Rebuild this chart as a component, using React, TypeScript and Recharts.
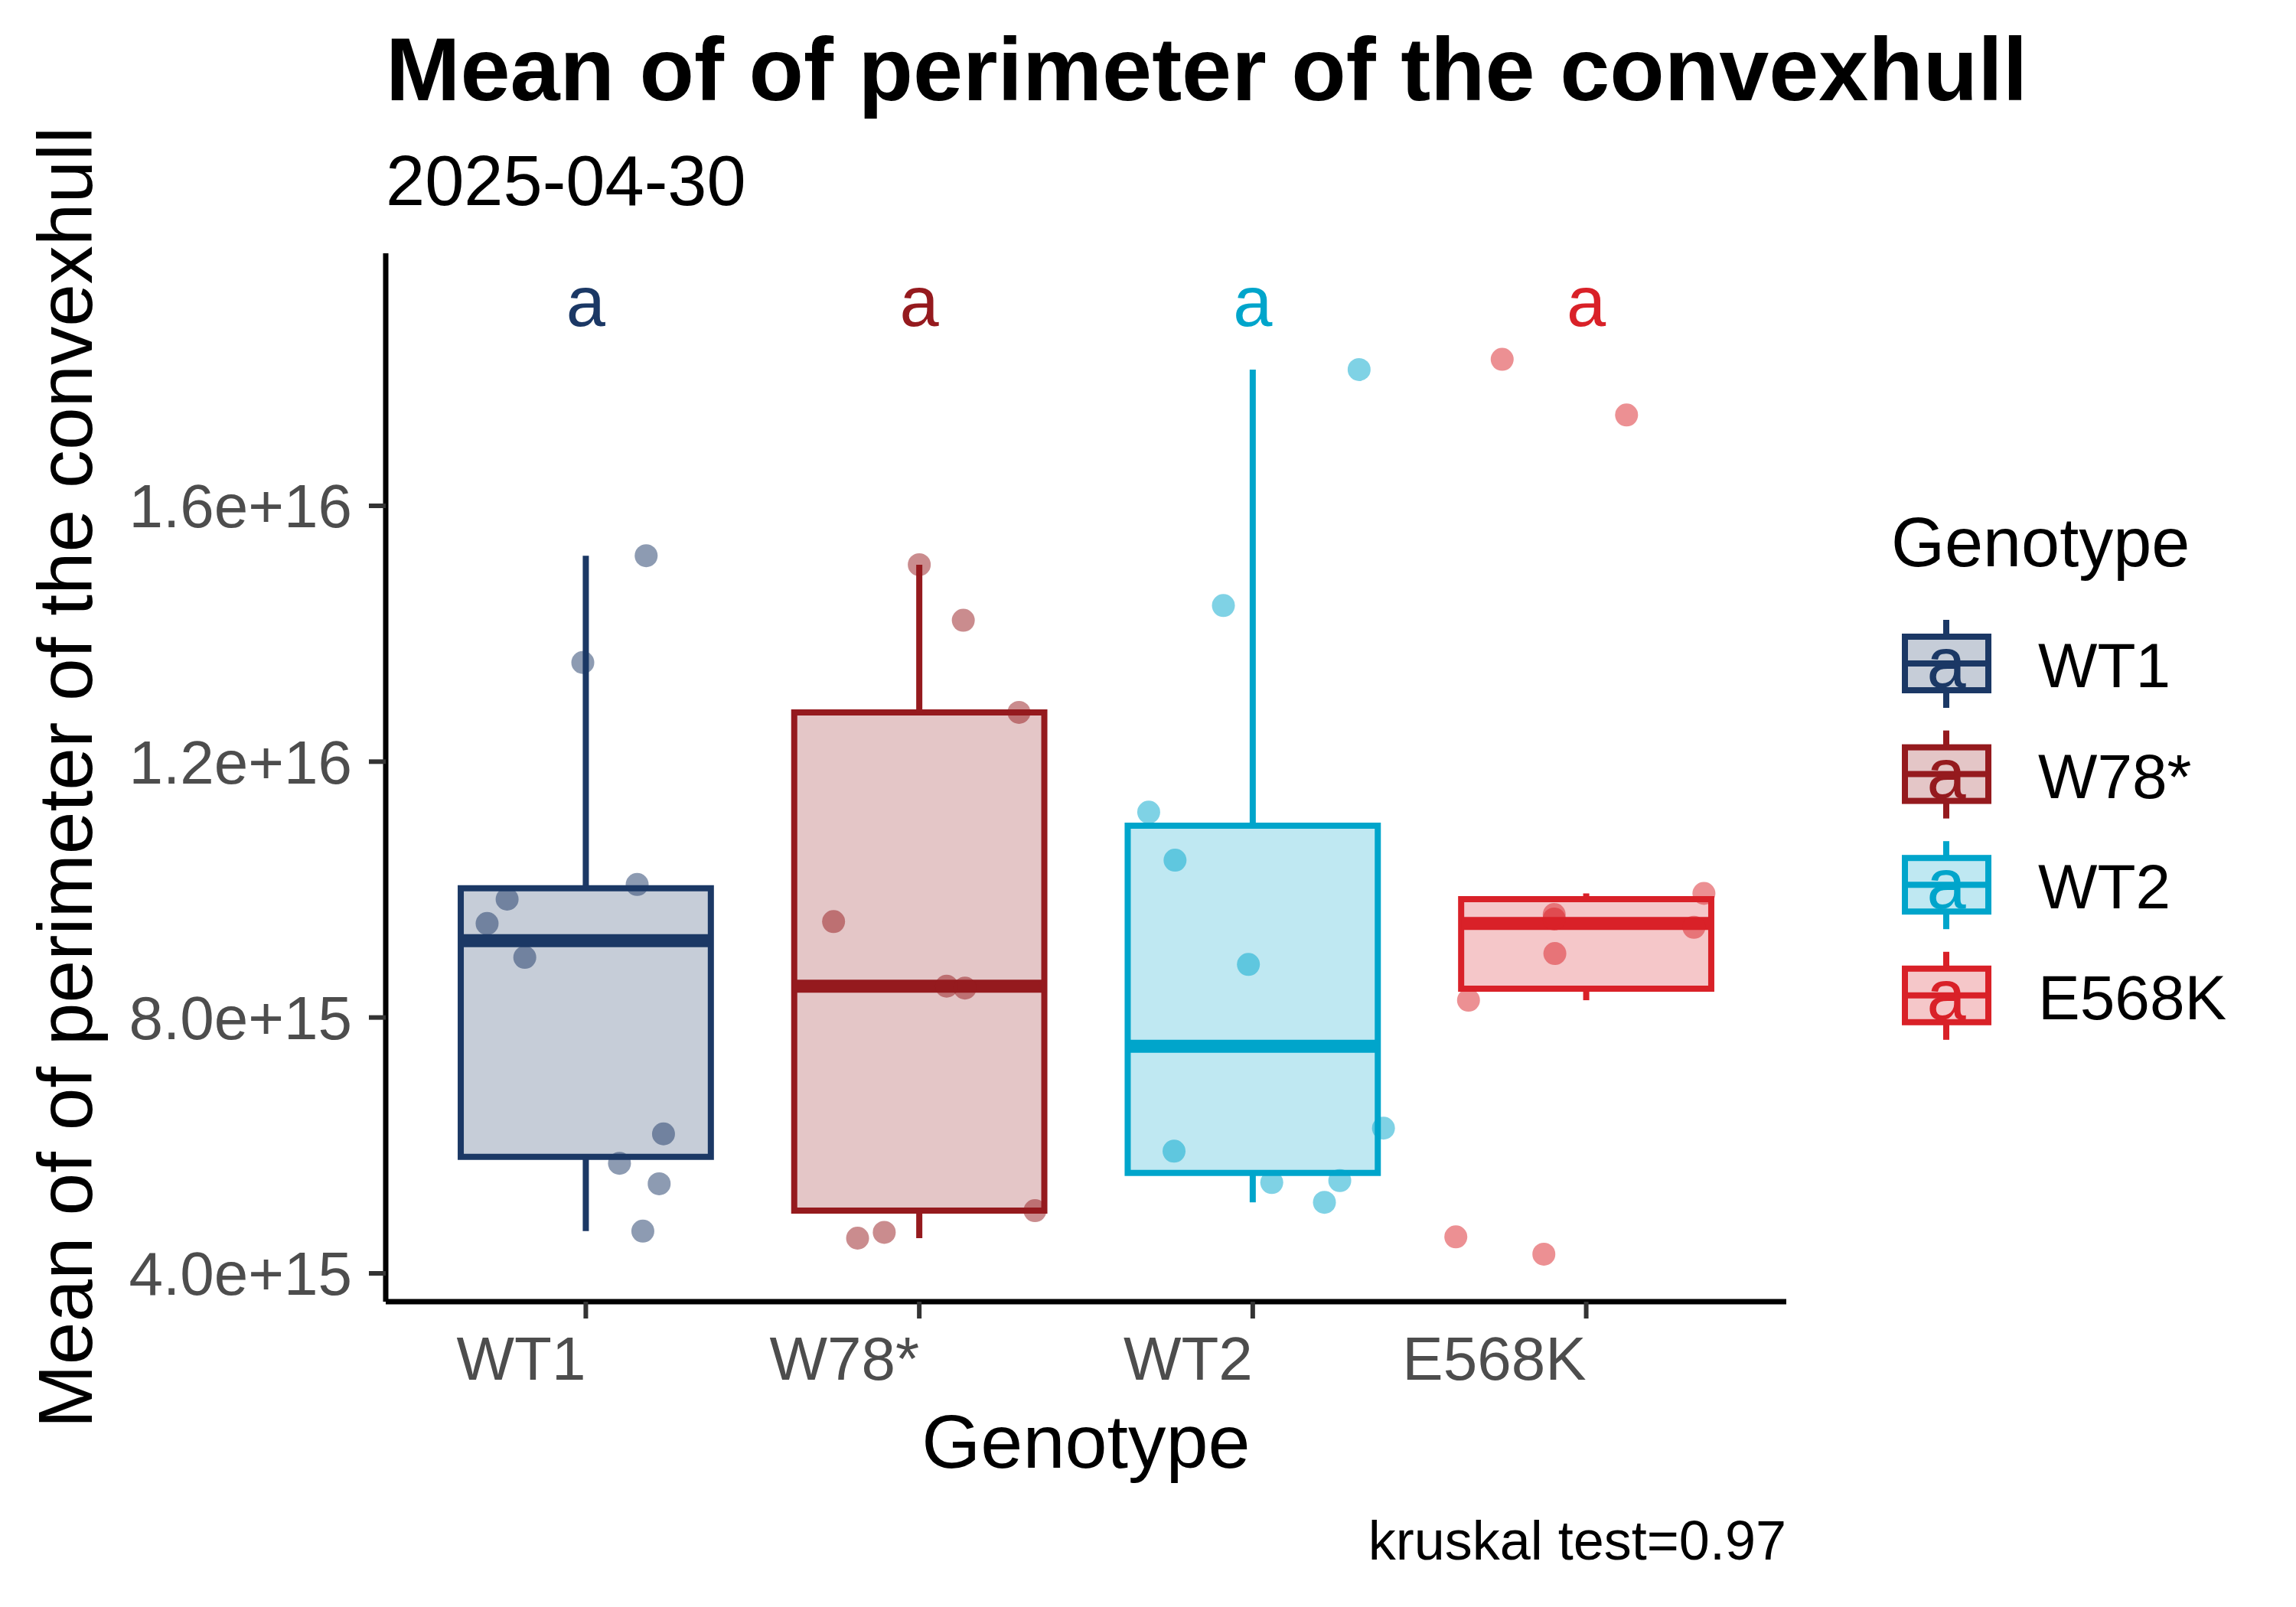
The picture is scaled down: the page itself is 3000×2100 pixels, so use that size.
import React from "react";
import {
  ComposedChart,
  XAxis,
  YAxis,
  Scatter,
  ReferenceArea,
  ReferenceLine,
  Legend,
} from "recharts";

const FONT = '"Liberation Sans", Arial, Helvetica, sans-serif';

const GENOTYPES = ["WT1", "W78*", "WT2", "E568K"];
const COLORS = ["#1B3865", "#951A1E", "#00A5CB", "#D92128"];

// jittered points: horizontal offset from the group centre, and the value
const WT1_JIT = [0.181, -0.009, -0.236, -0.296, -0.183, 0.154, 0.233, 0.101, 0.22, 0.171];
const WT1_VAL = [15.22e15, 13.55e15, 9.85e15, 9.47e15, 8.94e15, 10.08e15, 6.18e15, 5.72e15, 5.4e15, 4.66e15];

const W78_JIT = [0.0, 0.132, 0.299, -0.257, 0.082, 0.137, 0.347, -0.105, -0.185];
const W78_VAL = [15.08e15, 14.21e15, 12.77e15, 9.5e15, 8.49e15, 8.46e15, 4.98e15, 4.64e15, 4.55e15];

const WT2_JIT = [0.319, -0.088, -0.312, -0.233, -0.013, 0.392, -0.236, 0.057, 0.261, 0.215];
const WT2_VAL = [18.13e15, 14.44e15, 11.21e15, 10.46e15, 8.83e15, 6.27e15, 5.91e15, 5.42e15, 5.45e15, 5.11e15];

const E568K_JIT = [-0.252, 0.121, 0.353, -0.096, -0.096, 0.323, -0.094, -0.353, -0.391, -0.127];
const E568K_VAL = [18.29e15, 17.42e15, 9.94e15, 9.61e15, 9.54e15, 9.41e15, 9.0e15, 8.27e15, 4.57e15, 4.3e15];

// boxplot stats per genotype
const LOWER = [4.66e15, 4.55e15, 5.11e15, 8.27e15];
const Q1 = [5.82e15, 4.98e15, 5.57e15, 8.45e15];
const MEDIAN = [9.2e15, 8.49e15, 7.55e15, 9.47e15];
const Q3 = [10.02e15, 12.77e15, 11.0e15, 9.85e15];
const UPPER = [15.22e15, 15.08e15, 18.13e15, 9.94e15];

const LETTERS = ["a", "a", "a", "a"];
const LETTER_Y = 19.1e15;

const Y_TICKS = [4e15, 8e15, 12e15, 16e15];
const X_TICKS = [1, 2, 3, 4];

const JITS = [WT1_JIT, W78_JIT, WT2_JIT, E568K_JIT];
const VALS = [WT1_VAL, W78_VAL, WT2_VAL, E568K_VAL];

const pointData = JITS.map((jit, i) =>
  jit.map((j, k) => ({ x: i + 1 + j, y: VALS[i][k] }))
);

const HALF = 0.375;

const XTick = (props: any) => (
  <text
    x={props.x}
    y={props.y}
    dy="0.71em"
    textAnchor="end"
    fontSize={80}
    fill="#4d4d4d"
    fontFamily={FONT}
  >
    {GENOTYPES[props.payload.value - 1]}
  </text>
);

const LegendBox = () => (
  <svg width={550} height={750} style={{ fontFamily: FONT }}>
    <text x={21} y={90} fontSize={90} fill="#000">
      Genotype
    </text>
    {GENOTYPES.map((g, i) => {
      const cy = 217 + i * 144.6;
      const c = COLORS[i];
      return (
        <g key={g}>
          <line x1={93} x2={93} y1={cy - 57} y2={cy - 35} stroke={c} strokeWidth={8} />
          <line x1={93} x2={93} y1={cy + 35} y2={cy + 58} stroke={c} strokeWidth={8} />
          <rect x={39} y={cy - 35} width={109} height={70} fill={c} fillOpacity={0.25} stroke={c} strokeWidth={8} />
          <line x1={39} x2={148} y1={cy} y2={cy} stroke={c} strokeWidth={8} />
          <text x={93} y={cy + 31} textAnchor="middle" fontSize={92} fill={c}>
            {LETTERS[i]}
          </text>
          <text x={213} y={cy + 31} fontSize={82} fill="#000">
            {g}
          </text>
        </g>
      );
    })}
  </svg>
);

export default function App() {
  return (
    <div
      style={{
        position: "absolute",
        left: 0,
        top: 0,
        width: 3000,
        height: 2100,
        background: "#fff",
        fontFamily: FONT,
      }}
    >
      <ComposedChart
        width={3000}
        height={2100}
        margin={{ top: 331, right: 666, left: 104, bottom: 299 }}
      >
        <XAxis
          type="number"
          dataKey="x"
          domain={[0.4, 4.6]}
          allowDataOverflow
          ticks={X_TICKS}
          interval={0}
          height={100}
          tickSize={22}
          tickMargin={23}
          axisLine={{ stroke: "#000", strokeWidth: 7 }}
          tickLine={{ stroke: "#333", strokeWidth: 6 }}
          tick={<XTick />}
        />
        <YAxis
          type="number"
          dataKey="y"
          domain={[3.557e15, 19.948e15]}
          allowDataOverflow
          ticks={Y_TICKS}
          interval={0}
          tickFormatter={(v: number) => v.toExponential(1)}
          width={400}
          tickSize={22}
          tickMargin={22}
          axisLine={{ stroke: "#000", strokeWidth: 7 }}
          tickLine={{ stroke: "#333", strokeWidth: 6 }}
          tick={{ fontSize: 80, fill: "#4d4d4d", fontFamily: FONT }}
        />

        {GENOTYPES.map((g, i) => (
          <ReferenceLine
            key={`wu-${g}`}
            segment={[
              { x: i + 1, y: Q3[i] },
              { x: i + 1, y: UPPER[i] },
            ]}
            stroke={COLORS[i]}
            strokeWidth={8}
          />
        ))}
        {GENOTYPES.map((g, i) => (
          <ReferenceLine
            key={`wl-${g}`}
            segment={[
              { x: i + 1, y: LOWER[i] },
              { x: i + 1, y: Q1[i] },
            ]}
            stroke={COLORS[i]}
            strokeWidth={8}
          />
        ))}
        {GENOTYPES.map((g, i) => (
          <ReferenceArea
            key={`box-${g}`}
            x1={i + 1 - HALF}
            x2={i + 1 + HALF}
            y1={Q1[i]}
            y2={Q3[i]}
            fill={COLORS[i]}
            fillOpacity={0.25}
            stroke={COLORS[i]}
            strokeWidth={8}
            strokeOpacity={1}
          />
        ))}
        {GENOTYPES.map((g, i) => (
          <ReferenceLine
            key={`med-${g}`}
            segment={[
              { x: i + 1 - HALF, y: MEDIAN[i] },
              { x: i + 1 + HALF, y: MEDIAN[i] },
            ]}
            stroke={COLORS[i]}
            strokeWidth={17}
          />
        ))}

        {GENOTYPES.map((g, i) => (
          <Scatter
            key={`pts-${g}`}
            name={g}
            data={pointData[i]}
            isAnimationActive={false}
            shape={(p: any) => (
              <circle cx={p.cx} cy={p.cy} r={15} fill={COLORS[i]} fillOpacity={0.5} />
            )}
          />
        ))}
        {GENOTYPES.map((g, i) => (
          <Scatter
            key={`let-${g}`}
            data={[{ x: i + 1, y: LETTER_Y }]}
            isAnimationActive={false}
            shape={(p: any) => (
              <text
                x={p.cx}
                y={p.cy}
                dy={24}
                textAnchor="middle"
                fontSize={92}
                fill={COLORS[i]}
                fontFamily={FONT}
              >
                {LETTERS[i]}
              </text>
            )}
          />
        ))}

        <Legend
          layout="vertical"
          align="center"
          verticalAlign="middle"
          wrapperStyle={{ left: 2450, top: 650, width: 550, height: 750 }}
          content={() => <LegendBox />}
        />
      </ComposedChart>

      <svg
        width={3000}
        height={2100}
        style={{ position: "absolute", left: 0, top: 0, pointerEvents: "none", fontFamily: FONT }}
      >
        <text x={504} y={131} fontSize={117} fontWeight="bold" fill="#000">
          Mean of of perimeter of the convexhull
        </text>
        <text x={504} y={268} fontSize={92} fill="#000">
          2025-04-30
        </text>
        <text
          x={120}
          y={1016}
          fontSize={100}
          fill="#000"
          textAnchor="middle"
          transform="rotate(-90 120 1016)"
        >
          Mean of of perimeter of the convexhull
        </text>
        <text x={1419} y={1918} fontSize={99} fill="#000" textAnchor="middle">
          Genotype
        </text>
        <text x={2334} y={2038} fontSize={72} fill="#000" textAnchor="end">
          kruskal test=0.97
        </text>
      </svg>
    </div>
  );
}
